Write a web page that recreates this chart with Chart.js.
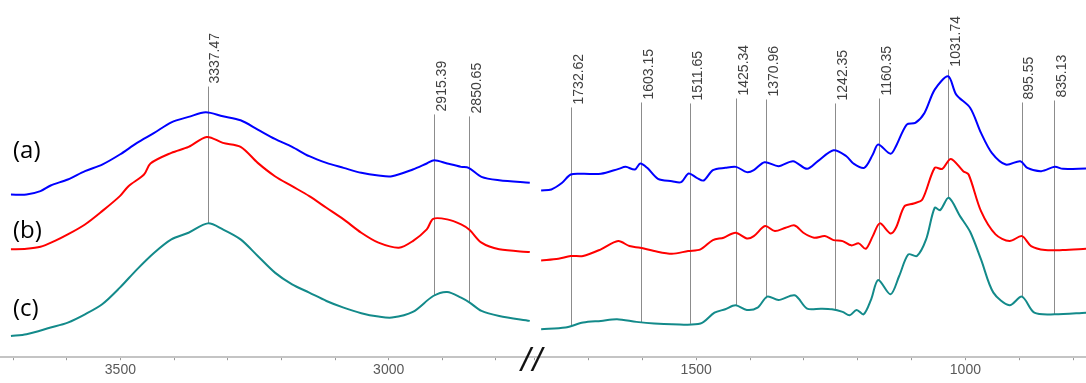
<!DOCTYPE html>
<html>
<head>
<meta charset="utf-8">
<script src="https://cdn.jsdelivr.net/npm/chart.js@4"></script>
<style>
  body { margin: 0; background: #fff; }
  #wrap { position: relative; width: 1086px; height: 383px; overflow: hidden; }
  canvas { position: absolute; top: 0; }
  #left { left: 0; }
  #right { left: 533px; }
  .tag { position: absolute; font: 24px/24px "Open Sans", sans-serif; color: #000; }
  #brk { position: absolute; left: 521px; top: 342px; font: italic 34px/34px "Liberation Sans", sans-serif; letter-spacing: 2px; color: #111; }
</style>
</head>
<body>
<div id="wrap">
  <canvas id="left" width="533" height="383"></canvas>
  <canvas id="right" width="553" height="383"></canvas>
  <div class="tag" style="left:13px;top:137px">(a)</div>
  <div class="tag" style="left:13px;top:217px">(b)</div>
  <div class="tag" style="left:13px;top:295px">(c)</div>
  <div id="brk">//</div>
</div>
<script>
// spectra, wavenumber (cm-1) vs absorbance (a.u., offset)
const leftWnA  = [3704,3675,3649,3630,3598,3566,3534,3501,3469,3437,3405,3373,3341,3309,3276,3244,3212,3180,3148,3116,3084,3051,3019,2994,2955,2929,2915,2891,2865,2851,2827,2794,2737];
const leftA    = [163.5,163.5,166.9,172.6,178.6,187,193.6,203.7,215.4,225.4,236.1,241.5,246.2,242.1,238.1,228.8,219.4,211.4,202,195.3,190.3,185.3,182.6,181.9,188.6,194.7,198,194.7,191.3,190.3,181.3,177.9,175.3];
const leftWnB  = [3704,3675,3649,3623,3598,3566,3534,3501,3485,3456,3444,3405,3373,3339,3309,3276,3244,3212,3180,3148,3116,3084,3051,3019,2981,2955,2929,2917,2891,2865,2849,2827,2794,2737];
const leftB    = [108.4,109,111,116.7,123.4,133.4,146.8,161.9,171.9,183.6,194.7,205.4,211.4,221.4,215.4,211.4,195.3,181.9,171.9,161.9,150.2,138.5,125.1,115.1,110,116.7,128.4,139.1,138.5,133.4,127.8,115.1,108.4,105.7];
const leftWnC  = [3704,3675,3630,3598,3566,3534,3501,3469,3437,3405,3373,3337,3309,3276,3244,3212,3180,3148,3116,3084,3051,3019,2994,2955,2917,2891,2865,2849,2827,2794,2737];
const leftC    = [21.4,23.1,29.8,34.8,43.1,53.2,69.9,88.3,105,118.4,125.1,134.5,128.4,118.4,101.7,85,73.2,64.9,56.5,49.8,44.2,40.8,39.8,45.5,61.5,65.6,59.9,54.9,46.5,41.5,36.5];

const rightWnA = [1788,1769,1749,1733,1710,1677,1644,1631,1614,1604,1591,1571,1545,1528,1514,1499,1486,1469,1446,1426,1406,1393,1373,1347,1320,1294,1274,1245,1221,1208,1188,1172,1162,1139,1129,1109,1093,1076,1057,1032,1017,991,971,951,925,898,885,859,834,819,776];
const rightA   = [167.6,168.6,175.3,183.6,184.3,184.3,189.3,191.3,188.6,194.7,190.3,179.3,176.9,175.9,184.6,180.3,177.6,188,190.3,191.3,186,188,196,192,197,189.3,197,208,202,194.7,190.3,203.7,213.7,204.4,212,233.8,235.5,245.5,268.9,282.3,263.9,250.5,225.4,205.4,193.6,197,190.3,187,191.3,189.3,189.6];
const rightWnB = [1788,1756,1733,1710,1677,1645,1624,1604,1578,1545,1515,1492,1469,1449,1427,1406,1393,1372,1354,1334,1317,1301,1281,1261,1245,1228,1212,1198,1185,1172,1159,1139,1129,1113,1096,1080,1057,1043,1027,1004,994,971,944,918,895,878,852,819,776];
const rightB   = [97.3,99,101.7,101.7,108.4,116.7,111.7,110,106.7,104,106.7,108.4,117.7,120.1,125.1,119.4,121.7,131.8,126.8,130.1,132.4,125.1,120.1,121.7,117.7,116.7,112.4,114.4,109,121.7,134.5,124.4,130.1,151.8,154.5,158.5,190.3,189.3,199.3,187,183.6,146.8,123.4,116.7,121.7,111.7,107.7,107.7,109];
const rightWnC = [1788,1743,1710,1677,1647,1611,1578,1545,1492,1466,1446,1427,1406,1386,1368,1347,1317,1294,1268,1248,1228,1215,1202,1189,1175,1162,1139,1123,1106,1090,1073,1057,1047,1031,1010,991,971,948,918,895,872,834,776];
const rightC   = [28.1,29.8,34.8,36.5,38.1,35.5,33.8,33.1,33.8,44.8,48.2,52.2,47.5,49.8,60.9,57.5,62.2,48.8,48.8,48.2,45.5,42.1,47.5,43.1,58.2,77.6,63.2,81.6,103.3,101.7,118.4,150.2,147.8,160.2,141.8,125.8,98.3,64.9,52.2,60.9,44.8,43.1,44.8];

// marked bands and the height where each label sits
const peakWn    = [3337.47, 2915.39, 2850.65, 1732.62, 1603.15, 1511.65, 1425.34, 1370.96, 1242.35, 1160.35, 1031.74, 895.55, 835.13];
const peakLabel = ['3337.47', '2915.39', '2850.65', '1732.62', '1603.15', '1511.65', '1425.34', '1370.96', '1242.35', '1160.35', '1031.74', '895.55', '835.13'];
const peakTop   = [272, 244, 242, 251, 256, 255, 260, 259, 255, 260, 289, 256, 258];

const tickLabels = [3500, 3000, 1500, 1000];
const leftRange  = [2731, 3724.4];
const rightRange = [776, 1803.1];

const colors = { a: '#0000ff', b: '#ff0000', c: '#138a8a' };

function valueAt(wns, vals, w) {
  for (let i = 0; i < wns.length - 1; i++) {
    const w0 = wns[i], w1 = wns[i + 1];
    if ((w <= w0 && w >= w1)) {
      const t = (w0 - w) / (w0 - w1);
      return vals[i] + t * (vals[i + 1] - vals[i]);
    }
  }
  return vals[vals.length - 1];
}

const peakPlugin = {
  id: 'peaks',
  beforeDatasetsDraw(chart, args, opts) {
    const ctx = chart.ctx, xs = chart.scales.x, ys = chart.scales.y;
    ctx.save();
    ctx.strokeStyle = '#8c8c8c';
    ctx.lineWidth = 1;
    peakWn.forEach(function(w, i) {
      if (w < xs.min || w > xs.max) return;
      const x = Math.round(xs.getPixelForValue(w)) + 0.5;
      ctx.beginPath();
      ctx.moveTo(x, ys.getPixelForValue(peakTop[i]));
      ctx.lineTo(x, ys.getPixelForValue(valueAt(opts.wn, opts.base, w)));
      ctx.stroke();
    });
    ctx.restore();
  },
  afterDatasetsDraw(chart) {
    const ctx = chart.ctx, xs = chart.scales.x, ys = chart.scales.y;
    ctx.save();
    ctx.fillStyle = '#404040';
    ctx.font = '14px "Liberation Sans", Arial, sans-serif';
    ctx.textAlign = 'left';
    ctx.textBaseline = 'middle';
    peakWn.forEach(function(w, i) {
      if (w < xs.min || w > xs.max) return;
      const x = xs.getPixelForValue(w);
      ctx.save();
      ctx.translate(x + 8, ys.getPixelForValue(peakTop[i]) - 3);
      ctx.rotate(-Math.PI / 2);
      ctx.fillText(peakLabel[i], 0, 0);
      ctx.restore();
    });
    ctx.restore();
  }
};

function series(wns, vals, color) {
  return {
    data: wns.map(function(w, i) { return { x: w, y: vals[i] }; }),
    borderColor: color,
    borderWidth: 2,
    pointRadius: 0,
    tension: 0.3,
    fill: false
  };
}

function makeChart(id, range, sets, baseWn, baseVals) {
  return new Chart(document.getElementById(id), {
    type: 'line',
    data: { datasets: sets },
    options: {
      responsive: false,
      animation: false,
      layout: { padding: { left: 0, right: 0, top: 0, bottom: 2 } },
      plugins: {
        legend: { display: false },
        tooltip: { enabled: false },
        peaks: { wn: baseWn, base: baseVals }
      },
      scales: {
        x: {
          type: 'linear',
          reverse: true,
          min: range[0],
          max: range[1],
          afterBuildTicks: function(scale) {
            const t = [];
            for (let v = Math.ceil(range[0] / 100) * 100; v <= range[1]; v += 100) t.push({ value: v });
            scale.ticks = t;
          },
          ticks: {
            autoSkip: false,
            maxRotation: 0,
            padding: 2,
            color: '#595959',
            font: { family: '"Liberation Sans", Arial, sans-serif', size: 14 },
            callback: function(v) { return tickLabels.includes(v) ? String(v) : ''; }
          },
          grid: { drawOnChartArea: false, drawTicks: true, tickLength: 3, color: '#9a9a9a' },
          border: { display: true, color: '#c4c4c4', width: 2 }
        },
        y: { display: false, min: 0, max: 359 }
      }
    },
    plugins: [peakPlugin]
  });
}

makeChart('left', leftRange, [
  series(leftWnA, leftA, colors.a),
  series(leftWnB, leftB, colors.b),
  series(leftWnC, leftC, colors.c)
], leftWnC, leftC);

makeChart('right', rightRange, [
  series(rightWnA, rightA, colors.a),
  series(rightWnB, rightB, colors.b),
  series(rightWnC, rightC, colors.c)
], rightWnC, rightC);
</script>
</body>
</html>
